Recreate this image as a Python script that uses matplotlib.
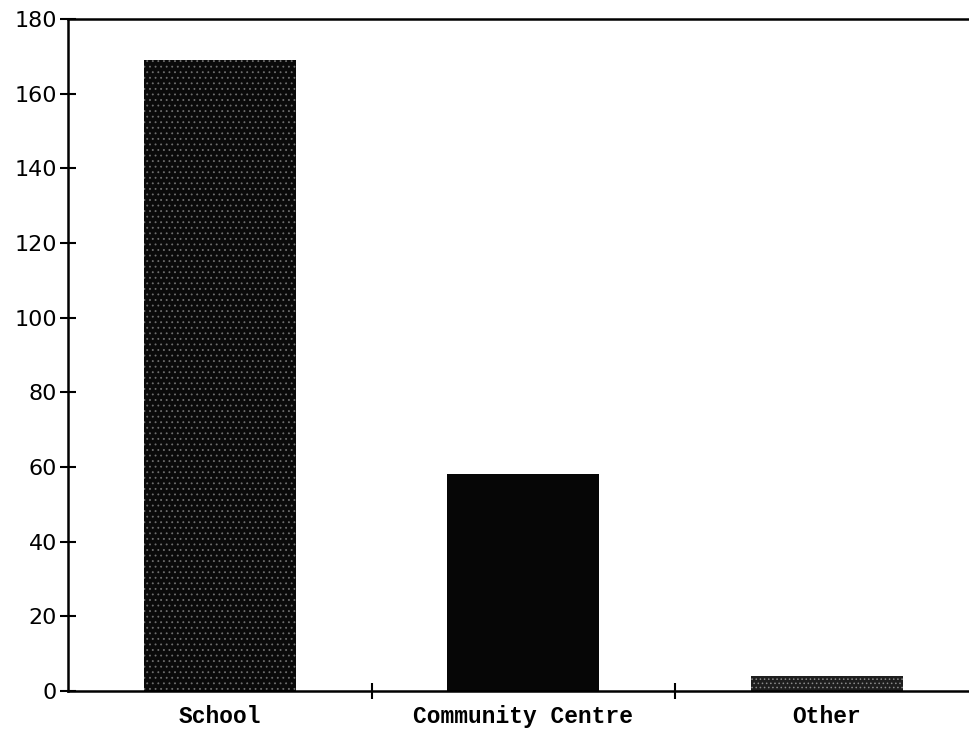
import numpy as np
import matplotlib
matplotlib.use("Agg")
import matplotlib.pyplot as plt

categorias = ["School", "Community Centre", "Other"]
valores = [169, 58, 4]
relleno = ["#0a0a0a", "#060606", "#1e1e1e"]
punteado = ["#6e6e6e", "#060606", "#8a8a8a"]
tramas = ["...", None, "...."]

plt.rcParams["hatch.linewidth"] = 0.6

fig = plt.figure(figsize=(9.7, 7.3), dpi=100)
ax = fig.add_axes([0.0701, 0.0534, 0.9387, 0.9205])

x = np.arange(len(categorias))
barras = ax.bar(x, valores, width=0.5, color=relleno, edgecolor=punteado, linewidth=0)
for b, h in zip(barras, tramas):
    b.set_hatch(h)

ax.set_xlim(-0.5, len(categorias) - 0.5)
ax.set_ylim(0, 180)
ax.set_yticks(np.arange(0, 181, 20))

# etiquetas en el centro, marcas entre categorias
ax.set_xticks(x)
ax.set_xticklabels(categorias, fontfamily="Liberation Mono", fontweight="bold", fontsize=16.5)
ax.tick_params(axis="x", which="major", length=0, pad=10)
ax.set_xticks(x[:-1] + 0.5, minor=True)
ax.tick_params(axis="x", which="minor", direction="inout", length=12, width=1.5)
ax.tick_params(axis="y", direction="inout", length=12, width=1.5, labelsize=16, pad=2)

for lado in ["left", "bottom", "top"]:
    ax.spines[lado].set_linewidth(1.8)
ax.spines["right"].set_visible(False)

fig.savefig("out.png", dpi=100)
